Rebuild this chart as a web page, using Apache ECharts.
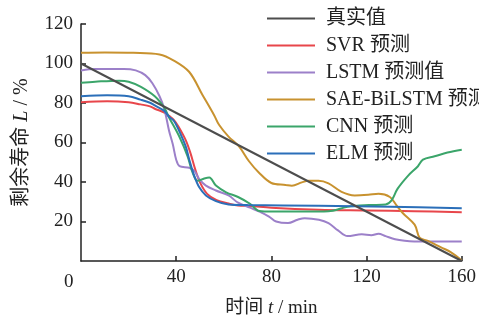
<!DOCTYPE html>
<html><head><meta charset="utf-8">
<script src="https://cdn.jsdelivr.net/npm/echarts@6/dist/echarts.min.js"></script>
<style>html,body{margin:0;padding:0;background:#fff}#c{width:479px;height:323px}</style>
</head><body><div id="c"></div>
<script>
var names = ['真实值','SVR 预测','LSTM 预测值','SAE-BiLSTM 预测','CNN 预测','ELM 预测'];
var colors = ['#4d4d4d','#e8464b','#9c80c9','#c8922f','#3ba56a','#2b6fb9'];
var xTicks = [0,40,80,120,160];
var yTicks = [0,20,40,60,80,100,120];

var trueT = [0,160];
var trueV = [100,0];

var svrT = [0,11,20,25,29,31,35,37,39,41,44,46,48,50,53,57,62,66,71,80,100,120,140,160];
var svrV = [80.4,80.9,80.4,79.3,78.3,77.1,75.2,73.5,71.5,68,61.2,54.6,46.4,39.8,34,30.8,29.1,28.1,27.9,27,26,25.6,25.2,24.7];

var lstmT = [0,6,18,23,27,30,33,35,37,38.6,40,41.4,45.5,47.6,49.7,52.5,56.7,62,66,71,75,79,82,87,91,94,100,104,108,112,118,122,125,128,132,136,140,160];
var lstmV = [96.5,97.2,97.2,96.5,94.1,90,83.4,77,66,59,51.3,48,47.2,45.6,41.5,38.2,35.7,33.2,29.5,27,25,22.5,20,19.2,20.9,21.7,20.9,19.2,15.5,12.6,13.5,13.1,13.8,12.6,11,10.2,9.9,9.9];

var saeT = [0,10,22,33,39,45.5,51,56,58,62,66.4,70.6,74.8,80,86,88.6,92.8,95.6,99.8,104,109.5,115,120.7,125,129.8,132.5,135.3,140.2,142.3,145.8,151.3,155.5,160];
var saeV = [105.4,105.6,105.4,104.6,101.5,95.7,84.2,73.7,69,63,58,50.5,44.7,39.5,38.5,38.1,39.8,40.6,40.6,39.3,35,33.2,33.5,34,32.4,28.3,24.2,18.4,11.8,10.2,6.9,4.4,0.3];

var cnnT = [0,6,16,20,25,31,35,37,41.4,44.8,46.9,49,51.8,53.9,56.7,61,66,71,75,80,94,104,112,121,128,130.5,133,137.4,141.6,143.7,148.6,154,160];
var cnnV = [90.3,90.8,91.3,90.8,88.3,83.4,77.6,72.7,62.8,53,44.7,40.6,41.8,42.3,38.2,34.8,32.4,29,25.3,25,25,25.2,27.4,28.3,28.6,30.7,36.5,43.1,48,51.3,53,54.9,56.3];

var elmT = [0,11,20,25,29,31,35,37,39,41,44,45.5,47.6,49.7,52.5,56.7,62,70,100,130,160];
var elmV = [83.4,83.9,83.4,81.7,80.1,78.8,76,73,71,66.5,58,51.3,43.1,37.3,33.2,30.3,28.6,28.3,28,27.5,26.7];

function pairs(t,v){ return t.map(function(x,i){ return [x, v[i]]; }); }
var allT = [trueT,svrT,lstmT,saeT,cnnT,elmT];
var allV = [trueV,svrV,lstmV,saeV,cnnV,elmV];

var font = "'Liberation Serif','Noto Sans CJK SC',serif";
var chart = echarts.init(document.getElementById('c'), null, {renderer:'canvas'});
chart.setOption({
  animation:false,
  backgroundColor:'#fff',
  grid:{left:81,right:15,top:24,bottom:56},
  legend:{
    orient:'vertical', left:267, top:8.5, padding:0, icon:'rect', itemWidth:48, itemHeight:2, itemGap:7,
    data:names,
    textStyle:{fontFamily:font, fontSize:20, color:'#222', padding:[0,0,0,6], lineHeight:20}
  },
  xAxis:{
    type:'value', min:xTicks[0], max:xTicks[xTicks.length-1], interval:40,
    name:'时间 {i|t} / min', nameLocation:'middle', nameGap:38,
    nameTextStyle:{fontFamily:font, fontSize:19, color:'#222', rich:{i:{fontFamily:font, fontStyle:'italic', fontSize:19, color:'#222'}}},
    axisLine:{lineStyle:{color:'#222', width:1.5}},
    axisTick:{inside:true, length:5, lineStyle:{color:'#222', width:1.5}},
    axisLabel:{showMinLabel:false, margin:7, fontFamily:font, fontSize:19, color:'#222'},
    splitLine:{show:false}
  },
  yAxis:{
    type:'value', min:yTicks[0], max:yTicks[yTicks.length-1], interval:20,
    name:'剩余寿命 {i|L} / %', nameLocation:'middle', nameGap:49,
    nameTextStyle:{fontFamily:font, fontSize:20, color:'#222', rich:{i:{fontFamily:font, fontStyle:'italic', fontSize:20, color:'#222'}}},
    axisLine:{show:true, lineStyle:{color:'#222', width:1.5}},
    axisTick:{show:true, inside:true, length:5, lineStyle:{color:'#222', width:1.5}},
    axisLabel:{showMinLabel:false, margin:8, fontFamily:font, fontSize:19, color:'#222'},
    splitLine:{show:false}
  },
  graphic:[{type:'text', left:64, top:273, style:{text:String(xTicks[0]), font:"19px 'Liberation Serif'", fill:'#222'}}],
  series: names.map(function(n,i){
    return {name:n, type:'line', data:pairs(allT[i],allV[i]), symbol:'none', smooth:i===0?false:0.35,
      lineStyle:{color:colors[i], width:2}, itemStyle:{color:colors[i]}, z: i===0?3:2};
  })
});
</script></body></html>
